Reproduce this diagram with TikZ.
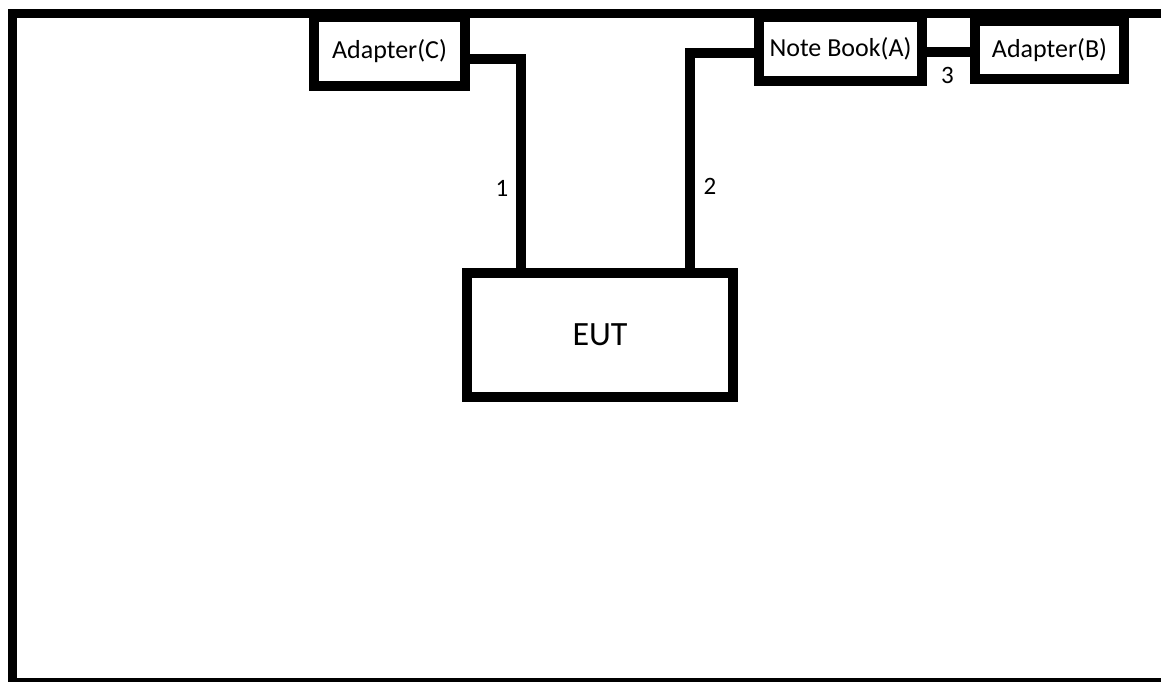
\documentclass[tikz,border=0pt]{standalone}
\usepackage{fontspec}
\setmainfont{Carlito}
\begin{document}
\begin{tikzpicture}[x=1pt,y=-1pt,
  box/.style={draw=black,line width=10pt,fill=white,inner sep=0pt,outer sep=0pt,font=\fontsize{26}{30}\selectfont},
  conn/.style={draw=black,line width=10pt},
  lbl/.style={font=\fontsize{25}{30}\selectfont,inner sep=0pt}]
\useasboundingbox (0,0) rectangle (1161,681);
\clip (0,0) rectangle (1161,681);
\fill[white] (0,0) rectangle (1161,681);
\draw[line width=9pt] (12,13) rectangle (1165.8,682);
% boxes
\node[box,minimum width=151pt,minimum height=69pt] (C) at (389.5,51.5) {Adapter(C)};
\node[box,minimum width=163pt,minimum height=64pt] (NB) at (840.5,49) {\raisebox{5pt}{Note Book(A)}};
\node[box,minimum width=149pt,minimum height=58pt] (B) at (1049.5,50) {Adapter(B)};
\node[box,minimum width=266pt,minimum height=124pt,font=\fontsize{34}{40}\selectfont] (EUT) at (600,335) {EUT};
% connectors
\draw[conn] ([yshift=-7.5pt]C.east) -| ([xshift=-79pt]EUT.north);
\draw[conn] ([yshift=-4pt]NB.west) -| ([xshift=89.5pt]EUT.north);
\draw[conn] ([yshift=-3pt]NB.east) -- ([yshift=-3pt]NB.east -| B.west);
% labels
\node[lbl] (l1) at (502,188) {1};
\node[lbl] (l2) at (710,186) {2};
\node[lbl] (l3) at (947.5,75) {3};
\end{tikzpicture}
\end{document}
